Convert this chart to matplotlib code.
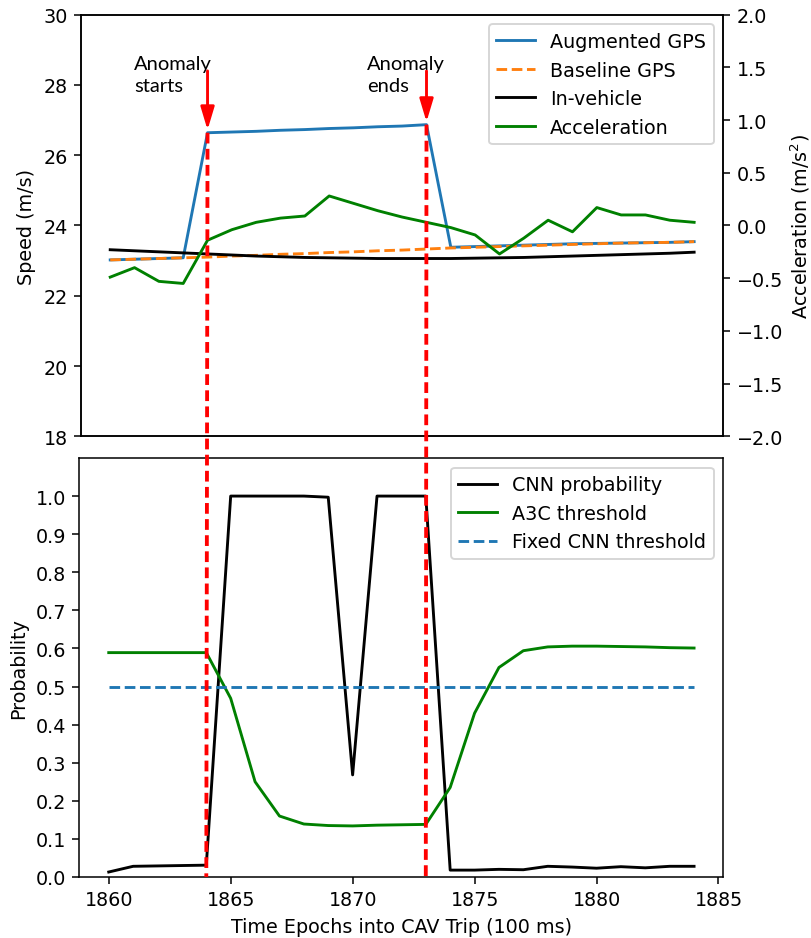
import numpy as np
import matplotlib
matplotlib.use("Agg")
import matplotlib.pyplot as plt
from matplotlib.lines import Line2D

epochs = list(range(1860, 1885))

augmented_gps = [23.02, 23.04, 23.06, 23.08, 26.64, 26.66, 26.68, 26.71, 26.73, 26.76,
                 26.78, 26.81, 26.83, 26.87, 23.38, 23.40, 23.42, 23.44, 23.46, 23.48,
                 23.49, 23.50, 23.51, 23.52, 23.54]
baseline_gps = [23.02, 23.04, 23.06, 23.08, 23.10, 23.13, 23.15, 23.18, 23.20, 23.23,
                23.25, 23.28, 23.30, 23.33, 23.36, 23.38, 23.40, 23.42, 23.44, 23.46,
                23.48, 23.50, 23.51, 23.52, 23.54]
in_vehicle = [23.31, 23.28, 23.25, 23.22, 23.19, 23.16, 23.13, 23.11, 23.09, 23.08,
              23.07, 23.06, 23.06, 23.06, 23.06, 23.07, 23.08, 23.09, 23.11, 23.13,
              23.15, 23.17, 23.19, 23.21, 23.24]
acceleration = [-0.49, -0.40, -0.53, -0.55, -0.14, -0.04, 0.03, 0.07, 0.09, 0.28,
                0.21, 0.14, 0.08, 0.03, -0.02, -0.09, -0.27, -0.12, 0.05, -0.06,
                0.17, 0.10, 0.10, 0.05, 0.03]

cnn_prob = [0.013, 0.028, 0.029, 0.030, 0.031, 1.0, 1.0, 1.0, 1.0, 0.997,
            0.268, 1.0, 1.0, 1.0, 0.018, 0.018, 0.020, 0.019, 0.028, 0.026,
            0.023, 0.027, 0.024, 0.028, 0.028]
a3c_thresh = [0.589, 0.589, 0.589, 0.589, 0.589, 0.469, 0.25, 0.16, 0.139, 0.135,
              0.134, 0.136, 0.137, 0.138, 0.235, 0.43, 0.55, 0.594, 0.604, 0.606,
              0.606, 0.605, 0.604, 0.602, 0.601]
fixed_thresh = [0.5] * len(epochs)

anomaly_start = 1864
anomaly_end = 1873

fig = plt.figure(figsize=(811 / 138, 939 / 138), dpi=138)
ax1 = fig.add_axes([0.0999, 0.5343, 0.792, 0.449])
ax2 = fig.add_axes([0.098, 0.065, 0.7939, 0.4462], sharex=ax1)
ax1b = ax1.twinx()

l1, = ax1.plot(epochs, augmented_gps, color="C0", label="Augmented GPS")
l2, = ax1.plot(epochs, baseline_gps, "--", color="C1", label="Baseline GPS")
l3, = ax1.plot(epochs, in_vehicle, color="black", label="In-vehicle")
l4, = ax1b.plot(epochs, acceleration, color="green", label="Acceleration")
ax1.set_ylim(18, 30)
ax1b.set_ylim(-2, 2)
ax1.set_ylabel("Speed (m/s)")
ax1b.set_ylabel("Acceleration (m/s$^2$)", labelpad=3)
ax1.tick_params(axis="x", bottom=False, labelbottom=False)
ax1b.legend([l1, l2, l3, l4], [l.get_label() for l in [l1, l2, l3, l4]], loc="upper right")

ax2.plot(epochs, cnn_prob, color="black", label="CNN probability")
ax2.plot(epochs, a3c_thresh, color="green", label="A3C threshold")
ax2.plot(epochs, fixed_thresh, "--", color="C0", label="Fixed CNN threshold")
ax2.set_ylim(0, 1.1)
ax2.set_yticks([0.0, 0.1, 0.2, 0.3, 0.4, 0.5, 0.6, 0.7, 0.8, 0.9, 1.0])
ax2.set_xticks([1860, 1865, 1870, 1875, 1880, 1885])
ax2.set_xlabel("Time Epochs into CAV Trip (100 ms)")
ax2.set_ylabel("Probability")
ax2.legend(loc="upper right")

# dashed markers running through both panels (axes are fixed, so figure coords are stable)
to_fig = fig.transFigure.inverted()
for t in (anomaly_start, anomaly_end):
    v = augmented_gps[epochs.index(t)]
    top = to_fig.transform(ax1.transData.transform((t, v)))
    bot = to_fig.transform(ax2.transData.transform((t, 0)))
    fig.add_artist(Line2D([top[0], bot[0]], [top[1], bot[1]], transform=fig.transFigure,
                          color="red", lw=2, dashes=(2.8, 1.4), zorder=5))
    ax1.annotate("", xy=(t, v + 0.08), xytext=(t, 28.4),
                 arrowprops=dict(arrowstyle="-|>,head_length=1.0,head_width=0.3",
                                 color="red", lw=1.5, shrinkA=0, shrinkB=0))

ax1.text(1860.97, 27.83, "Anomaly\nstarts", fontfamily="Lato", fontsize=10.5,
         va="baseline", ha="left", linespacing=1.35)
ax1.text(1870.54, 27.83, "Anomaly\nends", fontfamily="Lato", fontsize=10.5,
         va="baseline", ha="left", linespacing=1.35)

fig.savefig("out.png", dpi=138)
